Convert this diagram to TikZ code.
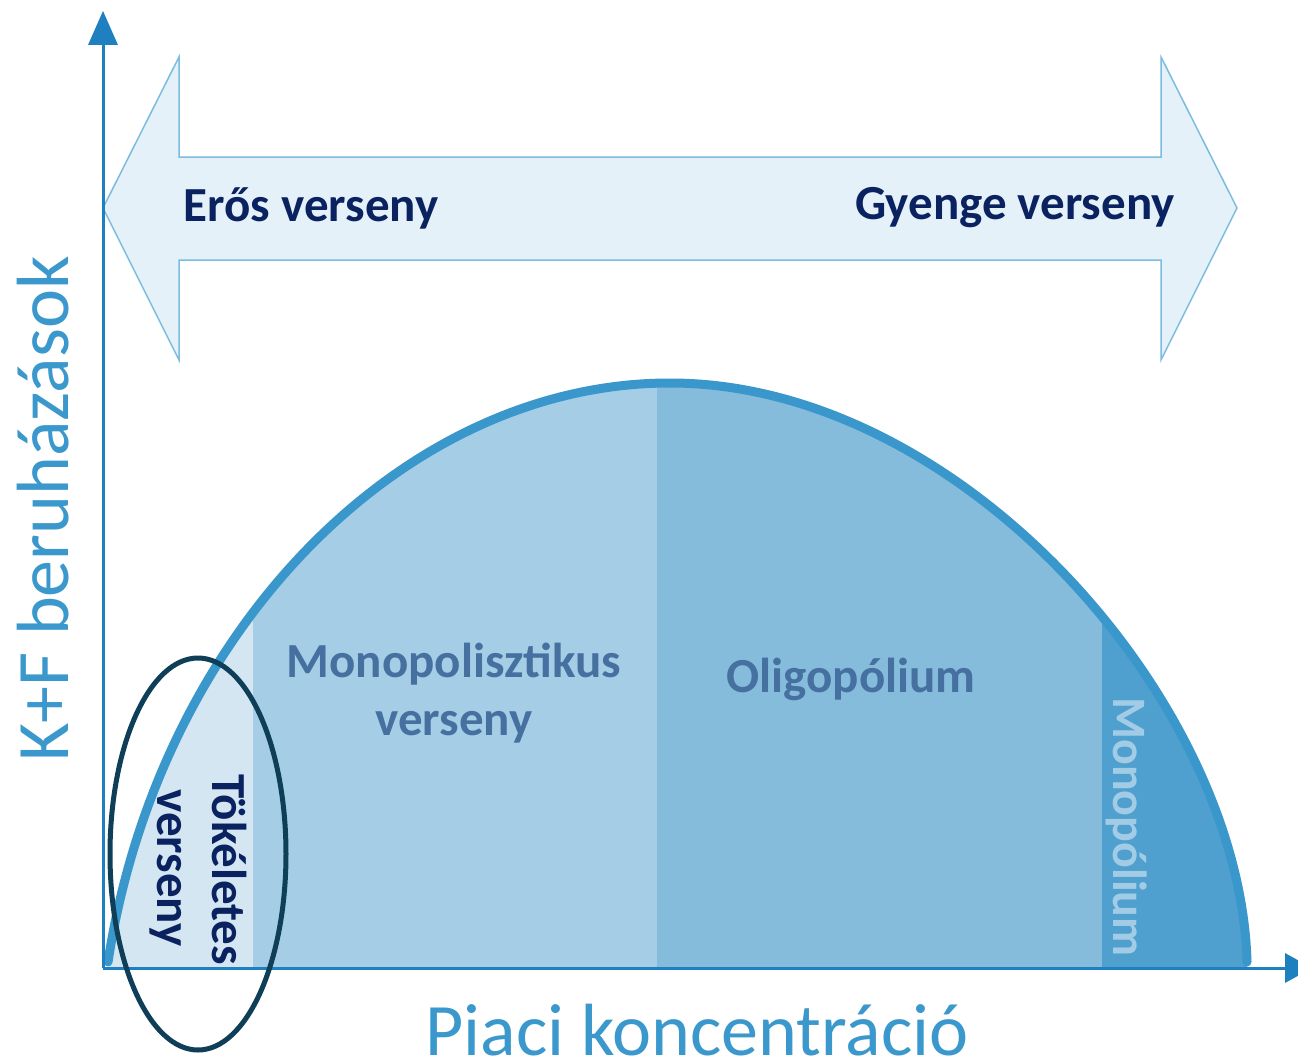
\documentclass[tikz,border=0pt]{standalone}
\usepackage{fontspec}
\setmainfont{Carlito}
\definecolor{axiscol}{HTML}{1F80C0}
\definecolor{arrfill}{HTML}{E5F1F9}
\definecolor{arrline}{HTML}{7BBCE0}
\definecolor{curvecol}{HTML}{3A97CB}
\definecolor{regA}{HTML}{D3E6F2}
\definecolor{regB}{HTML}{A6CDE6}
\definecolor{regC}{HTML}{85BCDC}
\definecolor{regD}{HTML}{4FA0CF}
\definecolor{darktxt}{HTML}{0B2260}
\definecolor{midtxt}{HTML}{46709F}
\definecolor{lighttxt}{HTML}{A2CCE6}
\definecolor{axtxt}{HTML}{3B98CC}
\definecolor{ellcol}{HTML}{0E3E58}
\begin{document}
\begin{tikzpicture}[x=1pt,y=-1pt,
  axisline/.style={draw=axiscol,line width=3pt},
  axhead/.style={fill=axiscol},
  bigarrow/.style={fill=arrfill,draw=arrline,line width=1.5pt,line join=miter},
  hump/.style={draw=curvecol,line width=9pt,line cap=round},
  toptxt/.style={text=darktxt,font=\fontsize{49}{56}\selectfont\bfseries,inner sep=0pt},
  regtxt/.style={text=midtxt,font=\fontsize{49}{56}\selectfont\bfseries,inner sep=0pt,anchor=base},
  sidetxt/.style={text=darktxt,font=\fontsize{49}{56}\selectfont\bfseries,inner sep=0pt,rotate=-90},
  monotxt/.style={text=lighttxt,font=\fontsize{48}{56}\selectfont\bfseries,inner sep=0pt,rotate=-90},
  axislabel/.style={text=axtxt,font=\fontsize{74}{80}\selectfont,inner sep=0pt,anchor=base},
  ring/.style={draw=ellcol,line width=5pt}
]
\useasboundingbox[fill=white] (0,0) rectangle (1298,1062);
% regions under the hump
\begin{scope}
  \clip (108,968) -- (108,962) .. controls (158,635) and (400,383) .. (670,383)
        .. controls (960,383) and (1240,700) .. (1247,962) -- (1247,968) -- cycle;
  \fill[regA] (100,300) rectangle (253,970);
  \fill[regB] (253,300) rectangle (657,970);
  \fill[regC] (657,300) rectangle (1102,970);
  \fill[regD] (1102,300) rectangle (1260,970);
\end{scope}
\draw[hump] (108,962) .. controls (158,635) and (400,383) .. (670,383)
        .. controls (960,383) and (1240,700) .. (1247,962);
% big double arrow
\draw[bigarrow] (103,208) -- (179,57) -- (179,157) -- (1161,157) -- (1161,57)
  -- (1237,208) -- (1161,360) -- (1161,260) -- (179,260) -- (179,360) -- cycle;
% axes
\coordinate (O) at (103,968);
\coordinate (Ytop) at (103,40);
\coordinate (Xend) at (1290,968);
\draw[axisline] (O) -- (Ytop);
\draw[axisline] (O) -- (Xend);
\fill[axhead] (103,11) -- (118,45) -- (88,45) -- cycle;
\fill[axhead] (1312,968) -- (1285,953) -- (1285,983) -- cycle;
% texts
\node[toptxt] (eros) at (311,208) {Erős verseny};
\node[toptxt] (gyenge) at (1015,208) {Gyenge verseny};
\node[regtxt] (mono1) at (454,677) {Monopolisztikus};
\node[regtxt] (mono2) at (454,735) {verseny};
\node[regtxt] (oligo) at (851,692) {Oligopólium};
\node[monotxt] (monop) at (1127,827) {Monopólium};
\node[sidetxt] (tok) at (230,870) {Tökéletes};
\node[sidetxt] (vers) at (166,868) {verseny};
\node[axislabel,rotate=90] (ylab) at (68,509) {K+F beruházások};
\node[axislabel] (xlab) at (697,1055) {Piaci koncentráció};
% ring
\draw[ring] (198,854) ellipse [x radius=88,y radius=196];
\end{tikzpicture}
\end{document}
